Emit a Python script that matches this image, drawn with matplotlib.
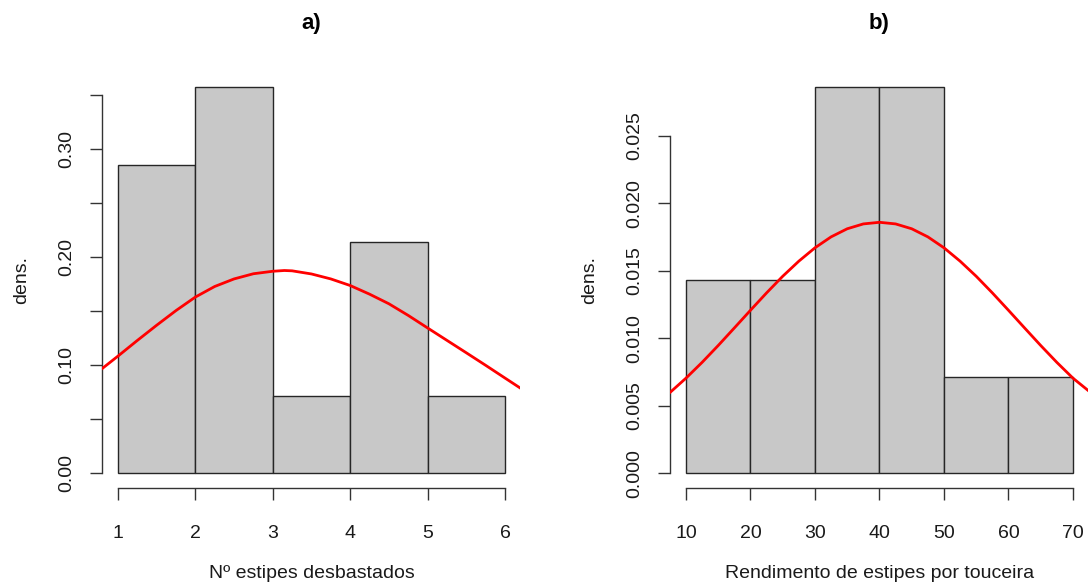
import numpy as np
import matplotlib
matplotlib.use("Agg")
import matplotlib.pyplot as plt

plt.rcParams['font.family'] = ['Liberation Sans', 'DejaVu Sans']

# --- panel a) Nº estipes desbastados ---
breaks_a = [1, 2, 3, 4, 5, 6]
counts_a = [4, 5, 1, 3, 1]
# fitted density curve
curve_xa = [0.8, 1.0, 1.25, 1.5, 1.75, 2.0, 2.25, 2.5, 2.75, 3.0, 3.15, 3.25, 3.5,
            3.75, 4.0, 4.25, 4.5, 4.75, 5.0, 5.25, 5.5, 5.75, 6.0, 6.2]
curve_ya = [0.0970, 0.1083, 0.1228, 0.1369, 0.1505, 0.1630, 0.1728, 0.1798, 0.1846,
            0.1869, 0.1876, 0.1873, 0.1844, 0.1798, 0.1737, 0.1657, 0.1568, 0.1460,
            0.1344, 0.1229, 0.1114, 0.0998, 0.0880, 0.0786]
yticks_a = [0.0, 0.05, 0.10, 0.15, 0.20, 0.25, 0.30, 0.35]
ylabels_a = ['0.00', '', '0.10', '', '0.20', '', '0.30', '']

# --- panel b) Rendimento de estipes por touceira ---
breaks_b = [10, 20, 30, 40, 50, 60, 70]
counts_b = [2, 2, 4, 4, 1, 1]
curve_xb = [7.6, 10, 12.5, 15, 17.5, 20, 22.5, 25, 27.5, 30, 32.5, 35, 37.5, 40,
            42.5, 45, 47.5, 50, 52.5, 55, 57.5, 60, 62.5, 65, 67.5, 70, 72.4]
curve_yb = [0.00600, 0.00703, 0.00820, 0.00945, 0.01075, 0.01206, 0.01335, 0.01458,
            0.01570, 0.01669, 0.01750, 0.01810, 0.01846, 0.01858, 0.01846, 0.01810,
            0.01750, 0.01669, 0.01570, 0.01458, 0.01335, 0.01206, 0.01075, 0.00945,
            0.00820, 0.00703, 0.00610]
yticks_b = [0.0, 0.005, 0.010, 0.015, 0.020, 0.025]
ylabels_b = ['0.000', '0.005', '0.010', '0.015', '0.020', '0.025']

panels = [
    ("a)", "Nº estipes desbastados", breaks_a, counts_a, curve_xa, curve_ya,
     yticks_a, ylabels_a, 0.0940),
    ("b)", "Rendimento de estipes por touceira", breaks_b, counts_b, curve_xb,
     curve_yb, yticks_b, ylabels_b, 0.6151),
]

fig = plt.figure(figsize=(10.9, 5.86), dpi=100)
W, H = 1090, 586

for title, xlab, brk, cnt, cx, cy, yt, yl, left in panels:
    ax = fig.add_axes([left, 0.1664, 0.3835, 0.7107])
    brk = np.array(brk, dtype=float)
    width = np.diff(brk)
    dens = np.array(cnt) / (np.sum(cnt) * width)
    ax.bar(brk[:-1], dens, width=width, align='edge', color='#C8C8C8',
           edgecolor='#262626', linewidth=1.0, zorder=2)
    ax.plot(cx, cy, color='red', lw=2.0, zorder=3, solid_joinstyle='round')

    xr = brk[-1] - brk[0]
    ax.set_xlim(brk[0] - 0.04 * xr, brk[-1] + 0.04 * xr)
    ymax = dens.max()
    ax.set_ylim(-0.04 * ymax, 1.04 * ymax)

    for s in ['top', 'right']:
        ax.spines[s].set_visible(False)
    ax.spines['left'].set_bounds(yt[0], yt[-1])
    ax.spines['bottom'].set_bounds(brk[0], brk[-1])
    for s in ['left', 'bottom']:
        ax.spines[s].set_linewidth(1.0)
        ax.spines[s].set_color('#333333')

    ax.set_xticks(brk)
    ax.set_xticklabels([f"{b:g}" for b in brk])
    ax.set_yticks(yt)
    ax.set_yticklabels(yl)
    ax.tick_params(axis='both', length=8.6, width=1.0, color='#333333',
                   labelsize=14, labelcolor='#1a1a1a')
    ax.tick_params(axis='x', pad=18)
    ax.tick_params(axis='y', pad=11, labelrotation=90)
    for lab in ax.get_yticklabels():
        lab.set_va('center')

    cx_pix = (left + 0.3835 / 2) * W
    fig.text(cx_pix / W, 1 - 24 / H, title, ha='center', va='center',
             fontsize=16, fontweight='bold')
    fig.text(cx_pix / W, 1 - 574 / H, xlab, ha='center', va='center',
             fontsize=14, color='#1a1a1a')
    fig.text((left * W - 81) / W, 1 - 280 / H, "dens.", ha='center',
             va='center', rotation=90, fontsize=14, color='#1a1a1a')

fig.savefig("out.png", dpi=100)
